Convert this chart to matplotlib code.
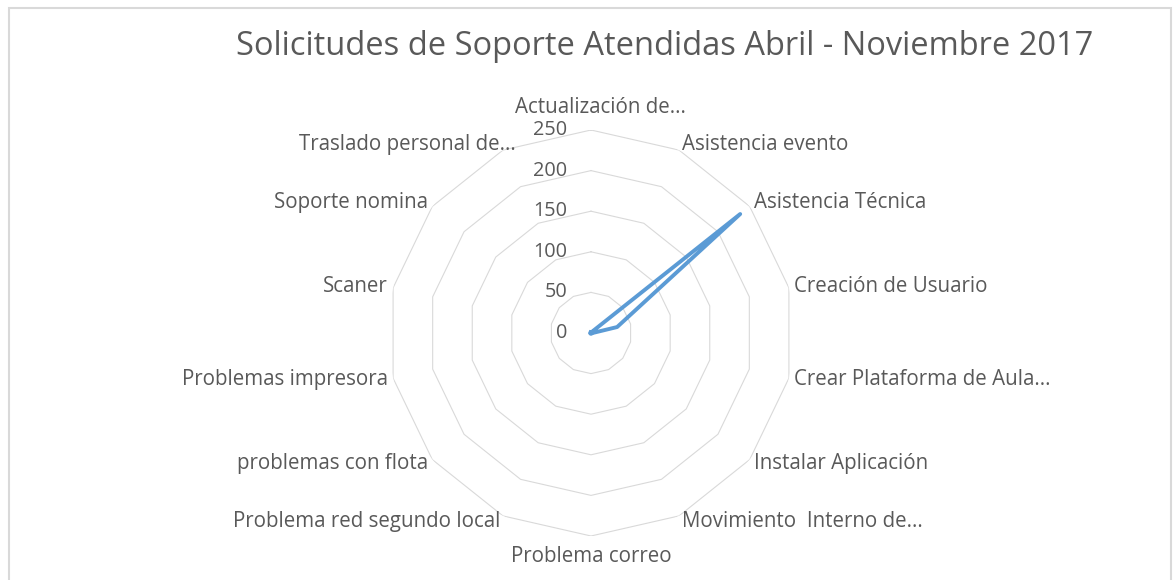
import numpy as np
import matplotlib
matplotlib.use("Agg")
import matplotlib.pyplot as plt
from matplotlib.patches import Rectangle

# datos
categorias = ["Actualización de...", "Asistencia evento", "Asistencia Técnica",
              "Creación de Usuario", "Crear Plataforma de Aula...", "Instalar Aplicación",
              "Movimiento  Interno de...", "Problema correo", "Problema red segundo local",
              "problemas con flota", "Problemas impresora", "Scaner", "Soporte nomina",
              "Traslado personal de..."]
valores = [1, 1, 235, 33, 1, 1, 1, 1, 1, 1, 1, 1, 1, 1]
niveles = [0, 50, 100, 150, 200, 250]

gris_txt = "#595959"
gris_grid = "#D9D9D9"
azul = "#5B9BD5"
plt.rcParams["font.family"] = ["Open Sans", "DejaVu Sans"]

W, H = 1173, 580
fig = plt.figure(figsize=(W / 100, H / 100), dpi=100)

cx, cy, rad = 591, 333, 203
ax = fig.add_axes([(cx - rad) / W, (H - cy - rad) / H, 2 * rad / W, 2 * rad / H],
                  projection="polar")
ax.set_theta_zero_location("N")
ax.set_theta_direction(-1)
ax.set_ylim(0, niveles[-1])
ax.grid(False)
ax.set_xticks([])
ax.set_yticks([])
ax.spines["polar"].set_visible(False)
ax.patch.set_visible(False)

n = len(categorias)
ang = np.arange(n) * 2 * np.pi / n
ang_c = np.append(ang, ang[0])

# anillos poligonales (sin radios, como en Excel)
for r in niveles[1:]:
    ax.plot(ang_c, [r] * (n + 1), color=gris_grid, lw=0.8, zorder=1)

# etiquetas del eje radial
for r in niveles:
    ax.annotate(str(r), xy=(0, r), xytext=(-17, 0), textcoords="offset points",
                ha="right", va="center", fontsize=14.3, color=gris_txt,
                annotation_clip=False)

# etiquetas de categorias (los textos truncados quedan algo desplazados)
desplaz = {0: 7, 13: 11}
for i, (a, lab) in enumerate(zip(ang, categorias)):
    s, c = np.sin(a), np.cos(a)
    if abs(s) < 0.05:
        ha = "center"
        r = 265 if c > 0 else 262
        va = "bottom" if c > 0 else "top"
    else:
        ha = "left" if s > 0 else "right"
        va = "center"
        r = 257
    ax.annotate(lab, xy=(a, r), xytext=(desplaz.get(i, 0), 0), textcoords="offset points",
                ha=ha, va=va, fontsize=14.8, color=gris_txt, annotation_clip=False)

# serie
v = np.append(valores, valores[0])
ax.plot(ang_c, v, color=azul, lw=2.8, solid_joinstyle="round", zorder=3)

fig.text(665 / W, 1 - 55 / H, "Solicitudes de Soporte Atendidas Abril - Noviembre 2017",
         ha="center", va="baseline", fontsize=23.5, color=gris_txt)

fig.add_artist(Rectangle((8.5 / W, -0.1), (1171 - 8.5) / W, 1.1 - 8 / H,
                         transform=fig.transFigure, fill=False,
                         edgecolor=gris_grid, lw=1.5))

fig.savefig("out.png", dpi=100)
